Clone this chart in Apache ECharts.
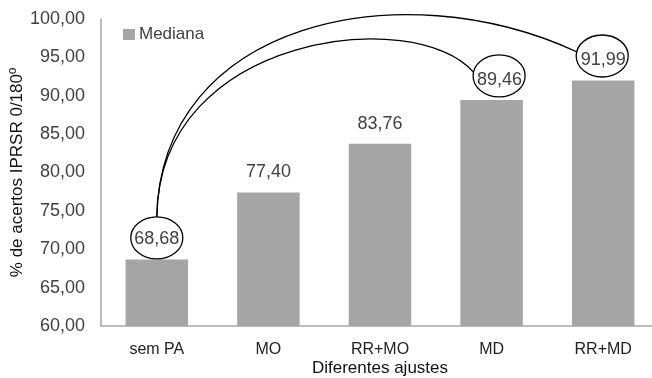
<!DOCTYPE html>
<html>
<head>
<meta charset="utf-8">
<script src="https://cdn.jsdelivr.net/npm/echarts@6/dist/echarts.min.js"></script>
<style>html,body{margin:0;padding:0;background:#fff;}#c{width:652px;height:378px;}</style>
</head>
<body>
<div id="c"></div>
<script>
var categories = ['sem PA', 'MO', 'RR+MO', 'MD', 'RR+MD'];
var medianValues = [68.68, 77.40, 83.76, 89.46, 91.99];
var yTicks = [60, 65, 70, 75, 80, 85, 90, 95, 100];
var circled = [0, 3, 4];

var fmt = function (v) { return v.toFixed(2).replace('.', ','); };
var FONT = '"Liberation Sans", Arial, sans-serif';

var chart = echarts.init(document.getElementById('c'), null, { renderer: 'canvas' });

chart.setOption({
  animation: false,
  backgroundColor: '#ffffff',
  grid: { left: 101, right: -7, top: 19, bottom: 52, containLabel: false, outerBoundsMode: 'none' },
  legend: {
    left: 123, top: 26, padding: 0,
    itemWidth: 12, itemHeight: 11, itemGap: 10,
    icon: 'rect',
    textStyle: { fontFamily: FONT, fontSize: 17, color: '#404040', padding: [0, 0, 0, -1] },
    data: ['Mediana']
  },
  xAxis: {
    type: 'category',
    data: categories,
    name: 'Diferentes ajustes',
    nameLocation: 'middle',
    nameGap: 34,
    nameMoveOverlap: false,
    nameTextStyle: { fontFamily: FONT, fontSize: 17, color: '#111' },
    axisLine: { show: true, lineStyle: { color: '#a6a6a6', width: 1.5 } },
    axisTick: { show: false },
    axisLabel: { fontFamily: FONT, fontSize: 16, color: '#222', margin: 16 }
  },
  yAxis: {
    type: 'value',
    min: yTicks[0], max: yTicks[yTicks.length - 1], interval: 5,
    name: '% de acertos IPRSR 0/180º',
    nameLocation: 'middle',
    nameGap: 75,
    nameMoveOverlap: false,
    nameTextStyle: { fontFamily: FONT, fontSize: 17, color: '#111' },
    axisLine: { show: true, lineStyle: { color: '#a6a6a6', width: 1.5 } },
    axisTick: { show: false },
    splitLine: { show: false },
    axisLabel: { fontFamily: FONT, fontSize: 18, color: '#404040', margin: 16, formatter: function (v) { return fmt(v); } }
  },
  series: [{
    name: 'Mediana',
    type: 'bar',
    barWidth: '56%',
    itemStyle: { color: '#a5a5a5' },
    data: medianValues.map(function (v, i) {
      var d = { value: v };
      if (i === 3) d.label = { offset: [8, 0] };
      return d;
    }),
    label: {
      show: true, position: 'top', distance: 11,
      fontFamily: FONT, fontSize: 18, color: '#404040',
      formatter: function (p) { return fmt(p.value); }
    }
  }]
});

function drawAnnotations() {
  var pts = medianValues.map(function (v, i) { return chart.convertToPixel({ seriesIndex: 0 }, [i, v]); });
  var centers = {
    0: [pts[0][0], pts[0][1] - 21.5],
    3: [pts[3][0] + 7.5, pts[3][1] - 24],
    4: [pts[4][0] - 1, pts[4][1] - 24.5]
  };
  var els = [];
  circled.forEach(function (i) {
    els.push({
      type: 'ellipse',
      shape: { cx: centers[i][0], cy: centers[i][1], rx: 26, ry: 21 },
      style: { fill: null, stroke: '#000', lineWidth: 1.3 },
      z: 10
    });
  });
  var s = [centers[0][0], centers[0][1] - 21];
  var eIn = [centers[3][0] - 26, centers[3][1] - 4];
  var eOut = [centers[4][0] - 25, centers[4][1] - 4];
  els.push({
    type: 'bezierCurve',
    shape: { x1: s[0], y1: s[1], cpx1: s[0] + 2, cpy1: s[1] - 185, cpx2: eIn[0] - 56, cpy2: eIn[1] - 66, x2: eIn[0], y2: eIn[1] },
    style: { fill: null, stroke: '#000', lineWidth: 1.3 },
    z: 10
  });
  els.push({
    type: 'bezierCurve',
    shape: { x1: s[0], y1: s[1], cpx1: s[0] + 4, cpy1: s[1] - 195, cpx2: eOut[0] - 177, cpy2: eOut[1] - 82, x2: eOut[0], y2: eOut[1] },
    style: { fill: null, stroke: '#000', lineWidth: 1.3 },
    z: 10
  });
  chart.setOption({ graphic: els });
}
drawAnnotations();
</script>
</body>
</html>
